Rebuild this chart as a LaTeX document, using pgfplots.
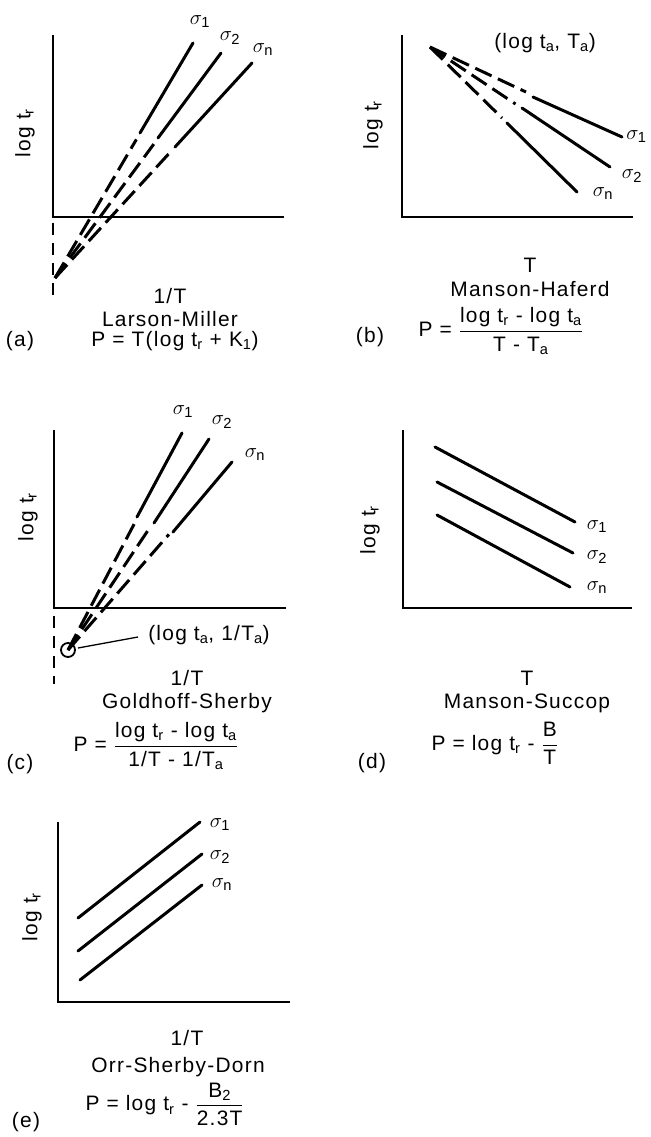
\documentclass[border=0pt]{standalone}
\usepackage{amsmath}
\usepackage{fontspec}
\setmainfont{Liberation Sans}[LetterSpace=6]
\usepackage{pgfplots}
\pgfplotsset{compat=1.18}

\newcommand\txt{\fontsize{21}{24}\selectfont}
\newcommand\sig[1]{$\sigma_{\mathrm{#1}}$}
\newcommand\sub[1]{\textsubscript{#1}}

\pgfplotsset{
  panel/.style={x=1bp, y=1bp, axis lines=none, ticks=none, clip=false,
    anchor=south west, xmin=0, ymin=0},
  ax/.style={black, line width=2.7bp},
  sol/.style={black, line width=3.0bp, line cap=round},
  dsh/.style={black, line width=3.0bp, dash pattern=on 18bp off 7bp},
}

\begin{document}
\begin{tikzpicture}[font=\txt]
\path[use as bounding box] (0,0) rectangle (651bp,-1137bp);

% (a) Larson-Miller
\begin{axis}[panel, at={(53bp,-217bp)}, xmax=231, ymax=182]
  \addplot[ax] coordinates {(0,182) (0,0) (231,0)};
  \addplot[ax, dash pattern=on 12bp off 8bp] coordinates {(0,-6) (0,-78)};
  \addplot[sol] coordinates {(140,174) (87,84)};
  \addplot[sol] coordinates {(168,164) (105,79)};
  \addplot[sol] coordinates {(199,154) (122,70)};
  \addplot[dsh] coordinates {(2,-61) (83.4,77.6)};
  \addplot[dsh] coordinates {(2,-61) (100.8,72.9)};
  \addplot[dsh] coordinates {(2,-61) (117.2,64.8)};
\end{axis}

% (b) Manson-Haferd
\begin{axis}[panel, at={(402bp,-217bp)}, xmax=231, ymax=182]
  \addplot[ax] coordinates {(0,182) (0,0) (231,0)};
  \addplot[sol] coordinates {(131,120) (220,80)};
  \addplot[sol] coordinates {(120,109) (208,50)};
  \addplot[sol] coordinates {(105,94) (175,25)};
  \addplot[dsh] coordinates {(28,170) (124,125)};
  \addplot[dsh] coordinates {(28,170) (113.5,113)};
  \addplot[dsh] coordinates {(28,170) (100,99)};
\end{axis}

% (c) Goldhoff-Sherby
\begin{axis}[panel, at={(54bp,-608bp)}, xmax=232, ymax=178]
  \addplot[ax] coordinates {(0,178) (0,0) (232,0)};
  \addplot[ax, dash pattern=on 12bp off 8bp] coordinates {(0,-8) (0,-76)};
  \addplot[sol] coordinates {(128,175) (83,91)};
  \addplot[sol] coordinates {(155,169) (100,85)};
  \addplot[sol] coordinates {(178,146) (119,76)};
  \addplot[dsh] coordinates {(14,-42) (80.1,83.9)};
  \addplot[dsh] coordinates {(14,-42) (96.5,81.4)};
  \addplot[dsh] coordinates {(14,-42) (114.9,73.6)};
  \addplot[only marks, mark=o, mark size=7bp, mark options={line width=1.8bp}]
    coordinates {(14,-42)};
  \addplot[black, line width=1.3bp] coordinates {(24,-40) (84,-29)};
\end{axis}

% (d) Manson-Succop
\begin{axis}[panel, at={(403bp,-608bp)}, xmax=229, ymax=178]
  \addplot[ax] coordinates {(0,178) (0,0) (229,0)};
  \addplot[sol] coordinates {(32,161) (172,86)};
  \addplot[sol] coordinates {(34,126) (170,55)};
  \addplot[sol] coordinates {(34,93) (167,21)};
\end{axis}

% (e) Orr-Sherby-Dorn
\begin{axis}[panel, at={(58bp,-1002bp)}, xmax=232, ymax=180]
  \addplot[ax] coordinates {(0,180) (0,0) (232,0)};
  \addplot[sol] coordinates {(20,84) (142,180)};
  \addplot[sol] coordinates {(20,51) (144,148)};
  \addplot[sol] coordinates {(22,22) (144,117)};
\end{axis}

\begin{scope}[x=1bp, y=-1bp]
  % (a)
  \node at (200,22) {\sig1};
  \node at (230,38) {\sig2};
  \node at (263,50) {\sig n};
  \node[rotate=90] at (25,133) {log t\sub r};
  \node at (170,296) {1/T};
  \node at (170,319) {Larson-Miller};
  \node at (20,341) {(a)};
  \node at (175,341) {P = T(log t\sub r + K\sub1)};
  % (b)
  \node at (545,43) {(log t\sub a, T\sub a)};
  \node[anchor=east] at (650,137) {\sig1};
  \node at (632,176) {\sig2};
  \node at (603,194) {\sig n};
  \node[rotate=90] at (373,125) {log t\sub r};
  \node at (530,265) {T};
  \node at (530,289) {Manson-Haferd};
  \node at (370,337) {(b)};
  \node[anchor=west] at (415,331) {P = $\dfrac{\text{log t\sub r - log t\sub a}}{\text{T - T\sub a}}$};
  % (c)
  \node at (183,412) {\sig1};
  \node at (222,422) {\sig2};
  \node at (255,455) {\sig n};
  \node[rotate=90] at (28,517) {log t\sub r};
  \node at (209,635) {(log t\sub a, 1/T\sub a)};
  \node at (187,678) {1/T};
  \node at (187,703) {Goldhoff-Sherby};
  \node at (20,764) {(c)};
  \node[anchor=west] at (70,746) {P = $\dfrac{\text{log t\sub r - log t\sub a}}{\text{1/T - 1/T\sub a}}$};
  % (d)
  \node at (597,527) {\sig1};
  \node at (597,557) {\sig2};
  \node at (597,588) {\sig n};
  \node[rotate=90] at (370,530) {log t\sub r};
  \node at (527,678) {T};
  \node at (527,703) {Manson-Succop};
  \node at (372,763) {(d)};
  \node[anchor=west] at (428,743) {P = log t\sub r - $\dfrac{\text{B}}{\text{T}}$};
  % (e)
  \node at (220,825) {\sig1};
  \node at (220,857) {\sig2};
  \node at (222,885) {\sig n};
  \node[rotate=90] at (32,917) {log t\sub r};
  \node at (187,1038) {1/T};
  \node at (178,1067) {Orr-Sherby-Dorn};
  \node at (26,1122) {(e)};
  \node[anchor=west] at (82,1104) {P = log t\sub r - $\dfrac{\text{B\sub2}}{\text{2.3T}}$};
\end{scope}
\end{tikzpicture}
\end{document}
